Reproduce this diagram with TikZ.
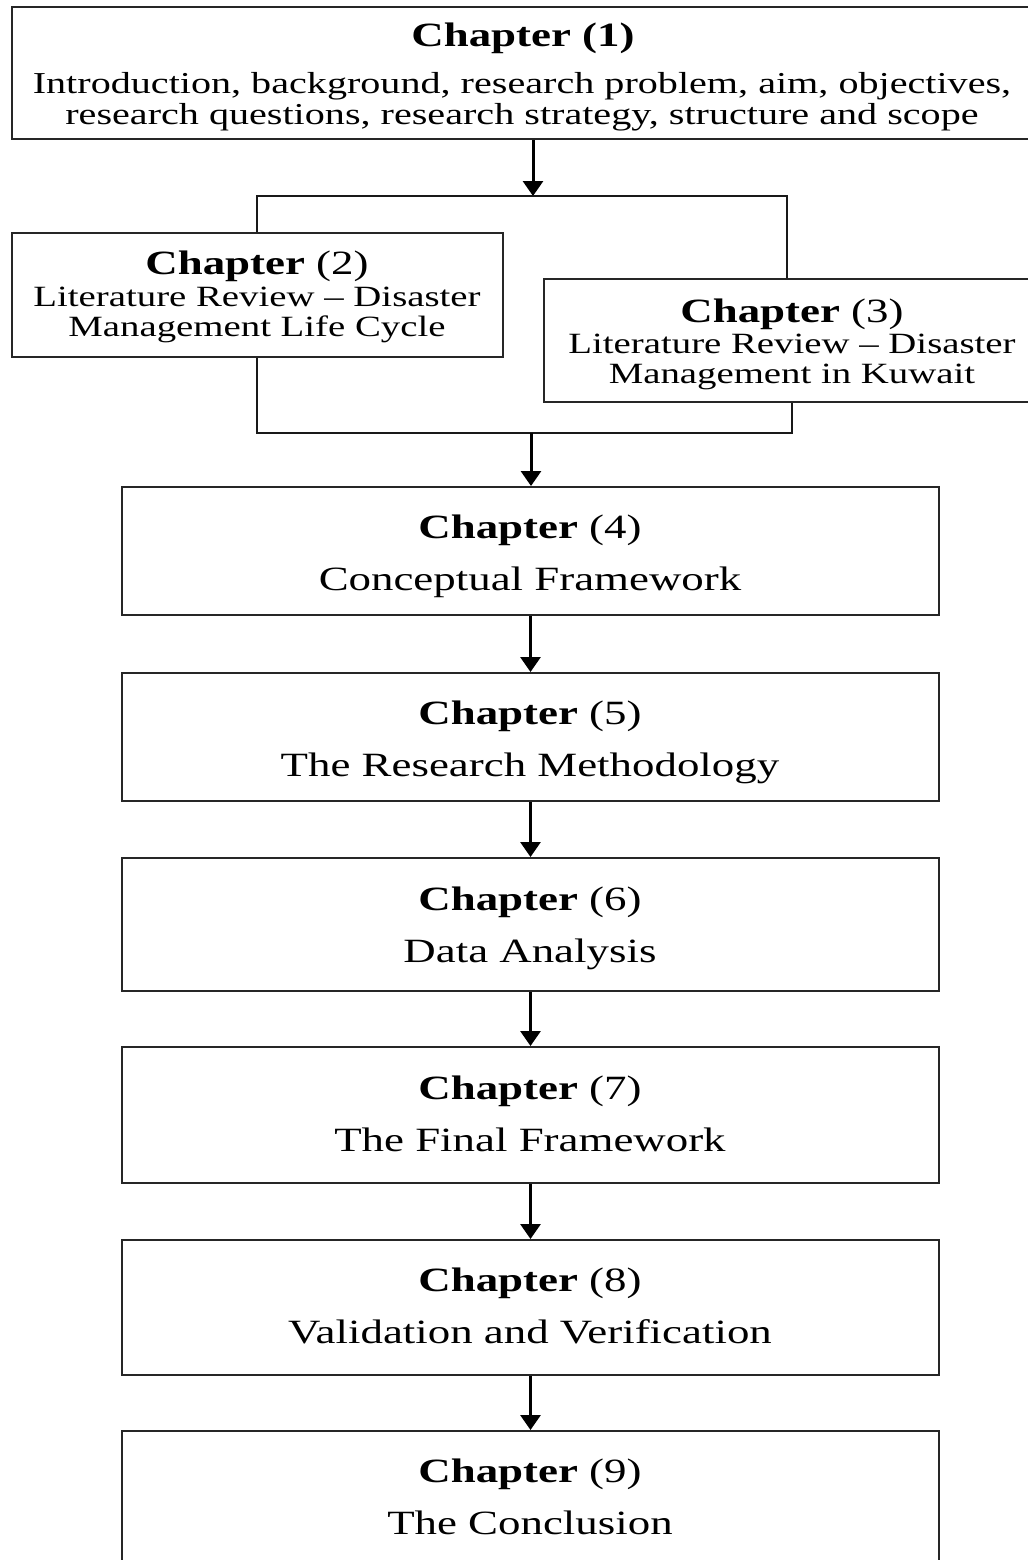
\documentclass[tikz,border=0pt]{standalone}
\usepackage{fontspec}
\setmainfont{Liberation Serif}[FakeStretch=1.32]
\usetikzlibrary{arrows.meta,fit}

\begin{document}
\begin{tikzpicture}[x=0.5pt,y=-0.5pt,
  box/.style={draw=black!85, line width=1pt, rectangle, inner sep=0pt},
  head/.style={font=\fontsize{17}{20}\selectfont, inner sep=0pt, text height=0.7em, text depth=0.2em},
  big/.style={font=\fontsize{17}{20}\selectfont, inner sep=0pt, text height=0.7em, text depth=0.2em},
  small/.style={font=\fontsize{15.2}{15.5}\selectfont, inner sep=0pt, align=center},
  side/.style={font=\fontsize{14.7}{15}\selectfont, inner sep=0pt, align=center},
  link/.style={line width=1pt, black!90},
  arr/.style={line width=1.5pt, -{Triangle[width=10pt,length=7.5pt]}}]

\useasboundingbox (0,0) rectangle (1028,1560);

% chapter boxes
\node[box, fit={(12,7)(1034,139)}] (c1) {};
\node[box, fit={(12,233)(503,357)}] (c2) {};
\node[box, fit={(544,279)(1040,402)}] (c3) {};
\node[box, fit={(122,487)(939,615)}] (c4) {};
\node[box, fit={(122,673)(939,801)}] (c5) {};
\node[box, fit={(122,858)(939,991)}] (c6) {};
\node[box, fit={(122,1047)(939,1183)}] (c7) {};
\node[box, fit={(122,1240)(939,1375)}] (c8) {};
\node[box, fit={(122,1431)(939,1566)}] (c9) {};

% box texts
\node[head] (t1) at (523,41) {\textbf{Chapter (1)}};
\node[small] (b1) at (522,102) {Introduction, background, research problem, aim, objectives,\\research questions, research strategy, structure and scope};

\node[head] (t2) at (257,269) {\textbf{Chapter} (2)};
\node[side] (b2) at (257,315) {Literature Review – Disaster\\Management Life Cycle};

\node[head] (t3) at (792,317) {\textbf{Chapter} (3)};
\node[side] (b3) at (792,362) {Literature Review – Disaster\\Management in Kuwait};

\node[head] (t4) at (530,533) {\textbf{Chapter} (4)};
\node[big] (b4) at (530,585) {Conceptual Framework};
\node[head] (t5) at (530,719) {\textbf{Chapter} (5)};
\node[big] (b5) at (530,771) {The Research Methodology};
\node[head] (t6) at (530,905) {\textbf{Chapter} (6)};
\node[big] (b6) at (530,957) {Data Analysis};
\node[head] (t7) at (530,1094) {\textbf{Chapter} (7)};
\node[big] (b7) at (530,1146) {The Final Framework};
\node[head] (t8) at (530,1286) {\textbf{Chapter} (8)};
\node[big] (b8) at (530,1338) {Validation and Verification};
\node[head] (t9) at (530,1477) {\textbf{Chapter} (9)};
\node[big] (b9) at (530,1529) {The Conclusion};

% branch joining chapters 2 and 3
\coordinate (jt) at (533,196);
\coordinate (tl) at (257,196);
\coordinate (tr) at (787,196);
\coordinate (bl) at (257,433);
\coordinate (br) at (792,433);
\coordinate (bm) at (531,433);

\draw[arr] (c1.south -| jt) -- (jt);
\draw[link] (c2.north -| tl) -- (tl) -- (tr) -- (c3.north -| tr);
\draw[link] (c2.south -| bl) -- (bl) -- (br) -- (c3.south -| br);
\draw[arr] (bm) -- (c4.north -| bm);

% main sequence
\draw[arr] (c4.south) -- (c5.north);
\draw[arr] (c5.south) -- (c6.north);
\draw[arr] (c6.south) -- (c7.north);
\draw[arr] (c7.south) -- (c8.north);
\draw[arr] (c8.south) -- (c9.north);
\end{tikzpicture}
\end{document}
